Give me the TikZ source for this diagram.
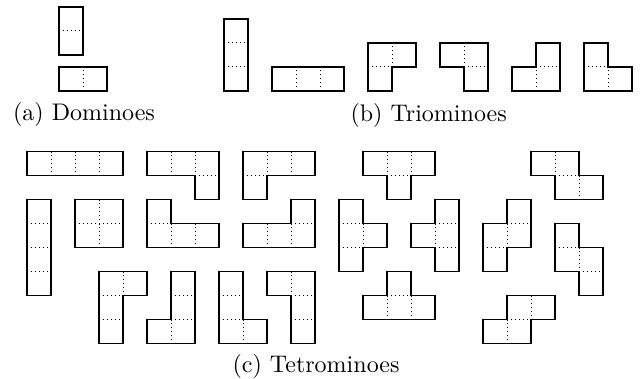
\documentclass[tikz,border=0pt]{standalone}
\usepackage{amsmath,amssymb}
\usepackage{tikz}
\usetikzlibrary{positioning}
\tikzset{
  cellEdge/.style={black, line width=0.4pt, dash pattern=on 0.4pt off 1.25pt},
  pieceOutline/.style={black, line width=0.6pt, line join=miter},
  capLabel/.style={font=\normalsize, anchor=base, inner sep=0pt}
}
% one polyomino: shift x, shift y, cells c/r, outline path
\newcommand{\polyo}[4]{%
  \begin{scope}[shift={(#1,#2)}]
    \foreach \c/\r in {#3} {
      \draw[cellEdge] (\c,\r+1) -- (\c,\r) -- (\c+1,\r);
    }
    \draw[pieceOutline] #4;
  \end{scope}%
}

\begin{document}
\begin{tikzpicture}[x=10pt,y=-10pt]
  \useasboundingbox (0,0) rectangle (26.708,15.75);

  % dominoes
  \polyo{2.458}{0.29}{0/0,0/1}{(0,0) rectangle (1,2)}
  \polyo{2.458}{2.79}{0/0,1/0}{(0,0) rectangle (2,1)}
  \node[capLabel] (capDomino) at (3.5,5.04) {(a) Dominoes};

  % triominoes
  \polyo{9.333}{0.79}{0/0,0/1,0/2}{(0,0) rectangle (1,3)}
  \polyo{11.333}{2.79}{0/0,1/0,2/0}{(0,0) rectangle (3,1)}
  \polyo{15.333}{1.79}{0/0,1/0,0/1}
    {(0,0) -- (2,0) -- (2,1) -- (1,1) -- (1,2) -- (0,2) -- cycle}
  \polyo{18.333}{1.79}{0/0,1/0,1/1}
    {(0,0) -- (2,0) -- (2,2) -- (1,2) -- (1,1) -- (0,1) -- cycle}
  \polyo{21.333}{1.79}{1/0,0/1,1/1}
    {(1,0) -- (2,0) -- (2,2) -- (0,2) -- (0,1) -- (1,1) -- cycle}
  \polyo{24.333}{1.79}{0/0,0/1,1/1}
    {(0,0) -- (1,0) -- (1,1) -- (2,1) -- (2,2) -- (0,2) -- cycle}
  \node[capLabel] (capTriomino) at (17.86,5.06) {(b) Triominoes};

  % tetrominoes
  \begin{scope}[shift={(1.125,6.32)}]
    \polyo{0}{0}{0/0,1/0,2/0,3/0}{(0,0) rectangle (4,1)}
    \polyo{0}{2}{0/0,0/1,0/2,0/3}{(0,0) rectangle (1,4)}
    \polyo{2}{2}{0/0,1/0,0/1,1/1}{(0,0) rectangle (2,2)}
    \polyo{5}{0}{0/0,1/0,2/0,2/1}
      {(0,0) -- (3,0) -- (3,2) -- (2,2) -- (2,1) -- (0,1) -- cycle}
    \polyo{9}{0}{0/0,1/0,2/0,0/1}
      {(0,0) -- (3,0) -- (3,1) -- (1,1) -- (1,2) -- (0,2) -- cycle}
    \polyo{5}{2}{0/0,0/1,1/1,2/1}
      {(0,0) -- (1,0) -- (1,1) -- (3,1) -- (3,2) -- (0,2) -- cycle}
    \polyo{9}{2}{2/0,0/1,1/1,2/1}
      {(2,0) -- (3,0) -- (3,2) -- (0,2) -- (0,1) -- (2,1) -- cycle}
    \polyo{3}{5}{0/0,1/0,0/1,0/2}
      {(0,0) -- (2,0) -- (2,1) -- (1,1) -- (1,3) -- (0,3) -- cycle}
    \polyo{5}{5}{1/0,1/1,1/2,0/2}
      {(1,0) -- (2,0) -- (2,3) -- (0,3) -- (0,2) -- (1,2) -- cycle}
    \polyo{8}{5}{0/0,0/1,0/2,1/2}
      {(0,0) -- (1,0) -- (1,2) -- (2,2) -- (2,3) -- (0,3) -- cycle}
    \polyo{10}{5}{0/0,1/0,1/1,1/2}
      {(0,0) -- (2,0) -- (2,3) -- (1,3) -- (1,1) -- (0,1) -- cycle}
    % T shapes
    \polyo{14}{0}{0/0,1/0,2/0,1/1}
      {(0,0) -- (3,0) -- (3,1) -- (2,1) -- (2,2) -- (1,2) -- (1,1) -- (0,1) -- cycle}
    \polyo{13}{2}{0/0,0/1,0/2,1/1}
      {(0,0) -- (1,0) -- (1,1) -- (2,1) -- (2,2) -- (1,2) -- (1,3) -- (0,3) -- cycle}
    \polyo{16}{2}{1/0,1/1,1/2,0/1}
      {(1,0) -- (2,0) -- (2,3) -- (1,3) -- (1,2) -- (0,2) -- (0,1) -- (1,1) -- cycle}
    \polyo{14}{5}{1/0,0/1,1/1,2/1}
      {(1,0) -- (2,0) -- (2,1) -- (3,1) -- (3,2) -- (0,2) -- (0,1) -- (1,1) -- cycle}
    % S and Z shapes
    \polyo{21}{0}{0/0,1/0,1/1,2/1}
      {(0,0) -- (2,0) -- (2,1) -- (3,1) -- (3,2) -- (1,2) -- (1,1) -- (0,1) -- cycle}
    \polyo{19}{2}{1/0,1/1,0/1,0/2}
      {(1,0) -- (2,0) -- (2,2) -- (1,2) -- (1,3) -- (0,3) -- (0,1) -- (1,1) -- cycle}
    \polyo{22}{3}{0/0,0/1,1/1,1/2}
      {(0,0) -- (1,0) -- (1,1) -- (2,1) -- (2,3) -- (1,3) -- (1,2) -- (0,2) -- cycle}
    \polyo{19}{6}{1/0,2/0,0/1,1/1}
      {(1,0) -- (3,0) -- (3,1) -- (2,1) -- (2,2) -- (0,2) -- (0,1) -- (1,1) -- cycle}
  \end{scope}
  \node[capLabel] (capTetromino) at (13.17,15.52) {(c) Tetrominoes};
\end{tikzpicture}
\end{document}
